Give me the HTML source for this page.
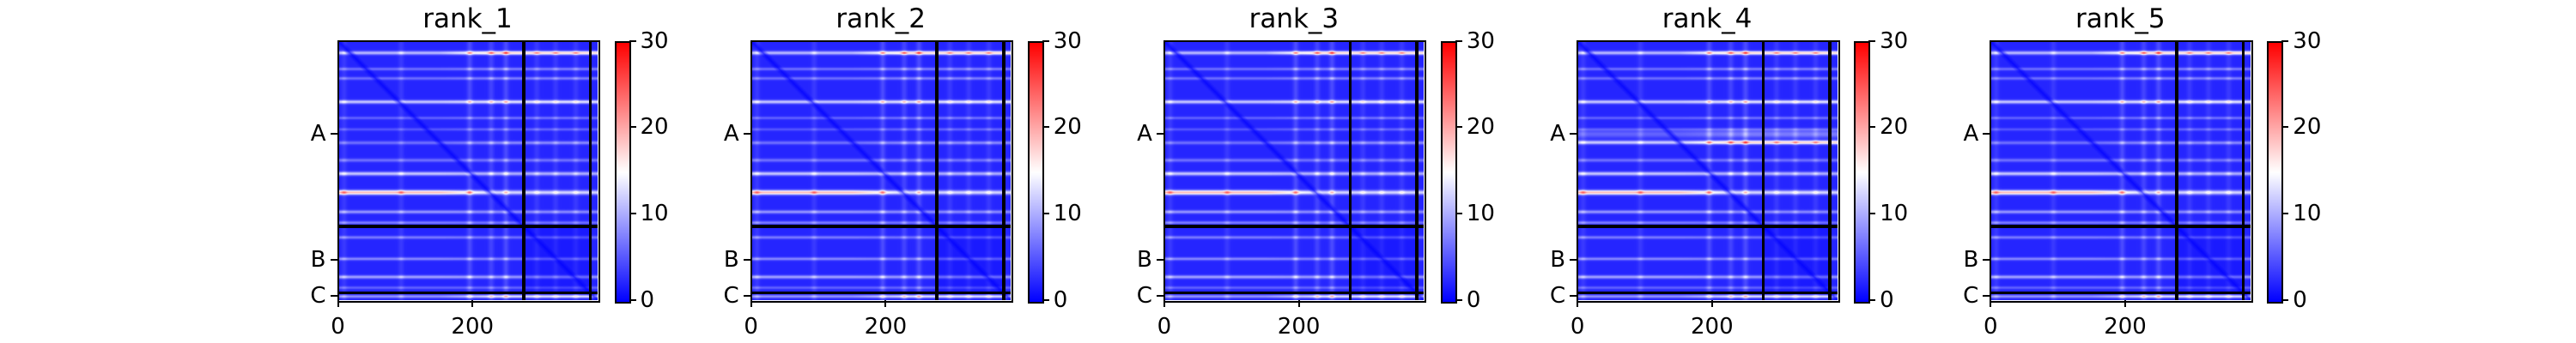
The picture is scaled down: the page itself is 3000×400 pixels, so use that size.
<!DOCTYPE html>
<html><head><meta charset="utf-8">
<style>
body{margin:0;background:#fff;width:3000px;height:400px;overflow:hidden;position:relative;font-family:"DejaVu Sans","Liberation Sans",sans-serif;}
.panel{position:absolute;top:0;width:460px;height:400px;}
.title{position:absolute;top:4px;font-size:31px;color:#000;width:302px;text-align:center;left:0}
canvas.hm{position:absolute;left:0;top:47.5px;width:302.5px;height:302px;}
.frame{position:absolute;left:-1px;top:46.5px;width:302.5px;height:302px;border:2px solid #000;box-sizing:content-box;pointer-events:none}
.vl{position:absolute;top:47.5px;width:3.5px;height:302px;background:#000}
.hl{position:absolute;left:0;height:3.5px;width:302.5px;background:#000}
.tk{position:absolute;background:#000}
.lbl{position:absolute;font-size:26px;color:#000;line-height:26px}
.cbar{position:absolute;left:322px;top:47.5px;width:15px;height:302px;border:2px solid #000;background:linear-gradient(to top,#0000ff,#ffffff 50%,#ff0000)}
</style></head><body>
<div id="root"></div>
<script>
const titles=["rank_1","rank_2","rank_3","rank_4","rank_5"];
const extent=386;
const blockLines=[276,375];
const yTickLabels=["A","B","C"];
const yTickPos=[138,326,380];
const xTickLabels=["0","200"];
const xTickPos=[0,200];
const cbarTicks=[0,10,20,30];
// row stripes: [row, value_left, value_right, width]
const rowStripes=[[17,14,23,1.9],[41,8,9,1.6],[55,8,9,1.6],[90,15,17,1.9],[114,7,8,1.5],[131,6,7,1.5],[151,8,10,1.8],[177,8,8,1.8],[197,15,13,2.0],[225,25,16,2.3],[254,11,10,1.8],[270,9,8,1.6],[292,9,8,1.6],[324,10,9,1.6],[351,12,11,1.8],[367,7,7,1.5],[380,11,17,1.6]];
const rank4Extra=[[138,7,9,4],[150,10,16,2]];
// column stripes: [col, value]
const colStripes=[[8,1.2],[93,1.2],[195,2.2],[227,1.8],[249,2.2],[295,1.2],[323,1.2],[353,1.2]];
const panelLeft=[393.5,874.7,1355.9,1837.1,2318.3];
function bwr(v){let t=Math.max(0,Math.min(1,v/30));let r,g,b;if(t<0.5){let s=t/0.5;r=g=255*s;b=255;}else{let s=(t-0.5)/0.5;r=255;g=b=255*(1-s);}return [r,g,b];}
const sc=302.5/extent;
const root=document.getElementById('root');
titles.forEach((t,pi)=>{
 const L=panelLeft[pi];
 const p=document.createElement('div');p.className='panel';p.style.left=L+'px';
 
 
 root.appendChild(p);
 const ti=document.createElement('div');ti.className='title';ti.textContent=t;
 
 
 p.appendChild(ti);
 const cv=document.createElement('canvas');cv.className='hm';cv.width=extent;cv.height=extent;
 
 
 p.appendChild(cv);
 const ctx=cv.getContext('2d');const img=ctx.createImageData(extent,extent);
 const stripes=pi===3?rowStripes.concat(rank4Extra):rowStripes;
 for(let r=0;r<extent;r++){for(let c=0;c<extent;c++){
  let v=2.2;let cm=0;
  for(const s of colStripes){const d=c-s[0];const g=Math.exp(-d*d/18);v+=s[1]*g;cm+=g*s[1]/2.2;}
  const mod=0.75+0.35*Math.min(1,cm);
  const f=Math.min(1,Math.max(0,(c-150)/80));
  for(const s of stripes){const d=r-s[0];const pk=s[1]*(1-f)+s[2]*f;v+=(pk-2.2)*mod*Math.exp(-d*d/(2*s[3]*s[3]));}
  if(r>276&&r<375&&c>276&&c<375)v=v*0.7;
  const dd=Math.abs(r-c);if(dd<8)v=v*(0.3+0.7*dd/8);
  const [R,G,B]=bwr(v);const i=(r*extent+c)*4;img.data[i]=R;img.data[i+1]=G;img.data[i+2]=B;img.data[i+3]=255;}}
 ctx.putImageData(img,0,0);
 const fr=document.createElement('div');fr.className='frame';
 
 
 p.appendChild(fr);
 blockLines.forEach(b=>{
  const v=document.createElement('div');v.className='vl';v.style.left=(b*sc-1.5)+'px';
  
  
  p.appendChild(v);
  const h=document.createElement('div');h.className='hl';h.style.top=(47.5+b*sc-1.5)+'px';
  
  
  p.appendChild(h);
 });
 yTickLabels.forEach((lab,i)=>{
  const y=47.5+yTickPos[i]*sc;
  const tk=document.createElement('div');tk.className='tk';tk.style.cssText+=`left:-9px;top:${y-1}px;width:8px;height:2px`;
  
  
  p.appendChild(tk);
  const l=document.createElement('div');l.className='lbl';l.textContent=lab;l.style.cssText+=`right:${460+14}px;top:${y-13}px`;
  
  
  p.appendChild(l);
 });
 xTickLabels.forEach((lab,i)=>{
  const x=xTickPos[i]*sc;
  const tk=document.createElement('div');tk.className='tk';tk.style.cssText+=`left:${x-1}px;top:350px;width:2px;height:8px`;
  
  
  p.appendChild(tk);
  const l=document.createElement('div');l.className='lbl';l.textContent=lab;l.style.cssText+=`left:${x-50}px;width:100px;text-align:center;top:368px`;
  
  
  p.appendChild(l);
 });
 const cb=document.createElement('div');cb.className='cbar';
 
 
 p.appendChild(cb);
 cbarTicks.forEach(v=>{
  const y=349.5-v/30*302;
  const tk=document.createElement('div');tk.className='tk';tk.style.cssText+=`left:339px;top:${y-1}px;width:8px;height:2px`;
  
  
  p.appendChild(tk);
  const l=document.createElement('div');l.className='lbl';l.textContent=v;l.style.cssText+=`left:352px;top:${y-13}px`;
  
  
  p.appendChild(l);
 });
});
</script>
</body></html>
